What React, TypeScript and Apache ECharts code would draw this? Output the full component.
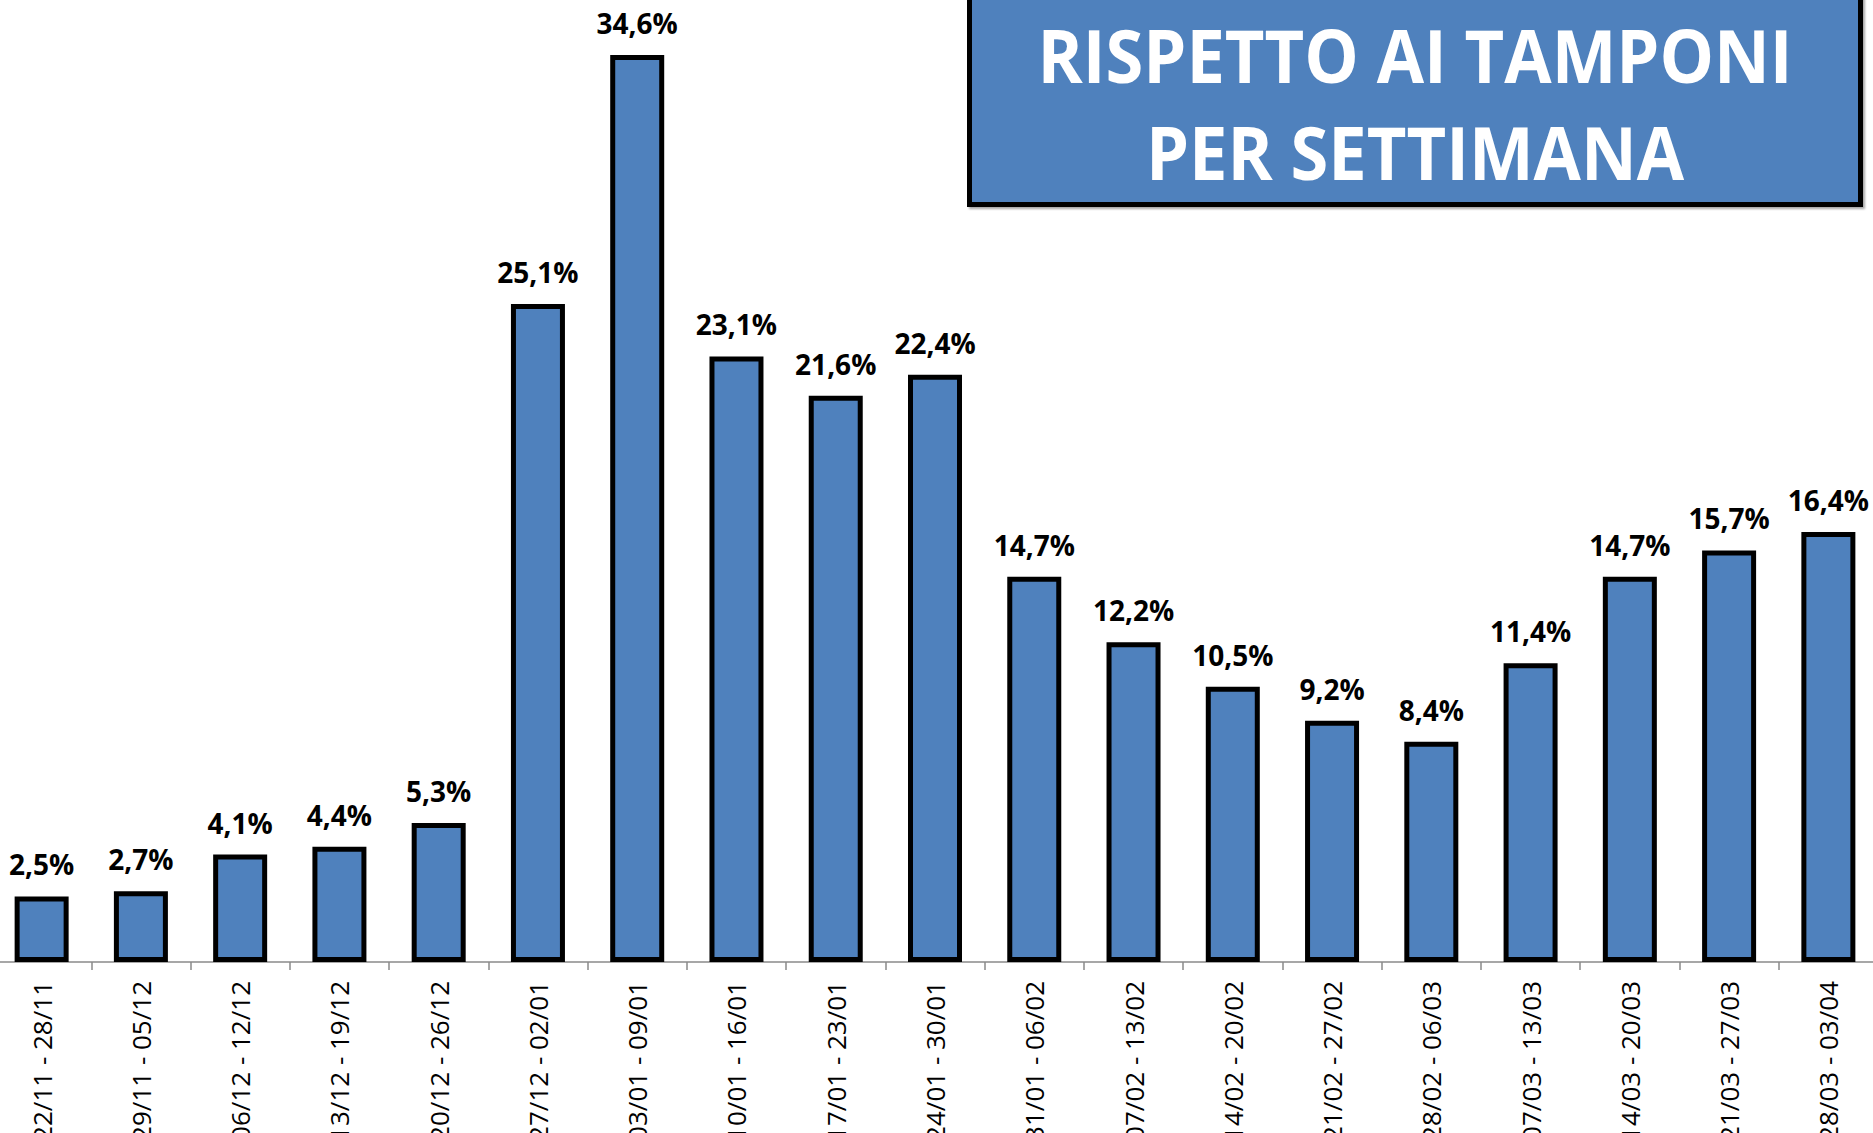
import React, { useEffect, useRef } from "react";
import * as echarts from "echarts";

const categories: string[] = [
  "22/11 - 28/11",
  "29/11 - 05/12",
  "06/12 - 12/12",
  "13/12 - 19/12",
  "20/12 - 26/12",
  "27/12 - 02/01",
  "03/01 - 09/01",
  "10/01 - 16/01",
  "17/01 - 23/01",
  "24/01 - 30/01",
  "31/01 - 06/02",
  "07/02 - 13/02",
  "14/02 - 20/02",
  "21/02 - 27/02",
  "28/02 - 06/03",
  "07/03 - 13/03",
  "14/03 - 20/03",
  "21/03 - 27/03",
  "28/03 - 03/04",
];

const positivityPct: number[] = [
  2.5, 2.7, 4.1, 4.4, 5.3, 25.1, 34.6, 23.1, 21.6, 22.4, 14.7, 12.2, 10.5, 9.2,
  8.4, 11.4, 14.7, 15.7, 16.4,
];

const titleLines: string[] = ["RISPETTO AI TAMPONI", "PER SETTIMANA"];

const BLUE = "#4F81BD";
const FONT = '"Open Sans", "Noto Sans", sans-serif';

export default function App() {
  const ref = useRef<HTMLDivElement>(null);

  useEffect(() => {
    if (!ref.current) return;
    const chart = echarts.init(ref.current, undefined, { renderer: "svg" });
    chart.setOption({
      animation: false,
      backgroundColor: "#ffffff",
      grid: {
        left: -8,
        right: -5,
        top: 0,
        bottom: 171,
        outerBoundsMode: "none",
        containLabel: false,
      },
      xAxis: {
        type: "category",
        data: categories,
        boundaryGap: true,
        axisLine: { show: true, lineStyle: { color: "#8a8a8a", width: 1.5 } },
        axisTick: {
          show: true,
          length: 8,
          interval: 0,
          alignWithLabel: false,
          lineStyle: { color: "#8a8a8a", width: 1.5 },
        },
        axisLabel: {
          interval: 0,
          rotate: 90,
          margin: 19,
          color: "#000",
          fontSize: 26,
          fontFamily: FONT,
        },
      },
      yAxis: {
        type: "value",
        min: 0,
        max: 36.7,
        show: false,
        splitLine: { show: false },
      },
      series: [
        {
          type: "bar",
          data: positivityPct,
          barWidth: 54,
          itemStyle: { color: BLUE, borderColor: "#000", borderWidth: 5 },
          label: {
            show: true,
            position: "top",
            distance: 18,
            color: "#000",
            fontSize: 28,
            fontWeight: "bold",
            fontFamily: FONT,
            formatter: (p: any) => p.value.toFixed(1).replace(".", ",") + "%",
          },
        },
      ],
      graphic: [
        {
          type: "rect",
          shape: { x: 969.5, y: -20, width: 891, height: 224.5 },
          style: {
            fill: BLUE,
            stroke: "#000",
            lineWidth: 5,
            shadowColor: "rgba(0,0,0,0.35)",
            shadowBlur: 2,
            shadowOffsetX: 2,
            shadowOffsetY: 2,
          },
          z: 10,
        },
        {
          type: "text",
          x: 1415,
          y: 55,
          scaleX: 0.94,
          style: {
            text: titleLines[0],
            fill: "#fff",
            font: `bold 73px ${FONT}`,
            textAlign: "center",
            textVerticalAlign: "middle",
          },
          z: 11,
        },
        {
          type: "text",
          x: 1415,
          y: 152,
          scaleX: 0.94,
          style: {
            text: titleLines[1],
            fill: "#fff",
            font: `bold 73px ${FONT}`,
            textAlign: "center",
            textVerticalAlign: "middle",
          },
          z: 11,
        },
      ],
    });
    return () => chart.dispose();
  }, []);

  return (
    <div
      ref={ref}
      style={{ position: "absolute", left: 0, top: 0, width: 1873, height: 1133 }}
    />
  );
}
